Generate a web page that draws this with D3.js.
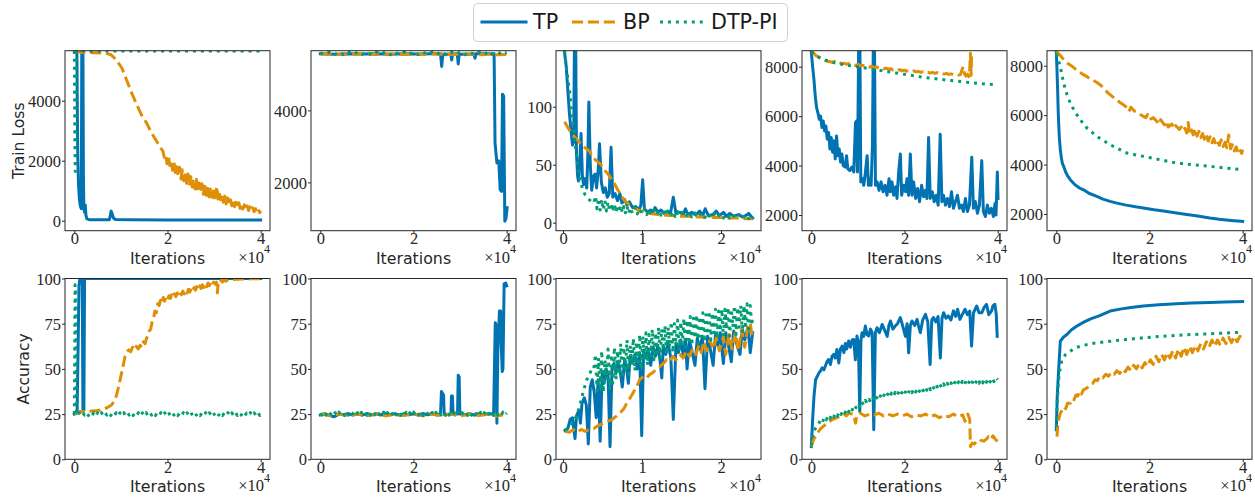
<!DOCTYPE html>
<html>
<head>
<meta charset="utf-8">
<script src="https://cdn.jsdelivr.net/npm/d3@7"></script>
<style>
  body { margin: 0; background: #fff; }
  svg { display: block; }
</style>
</head>
<body>
<svg id="fig" width="1255" height="497"></svg>
<script>
// Training curves: TP, BP and DTP-PI on five tasks.
// Each series is a list of [iterations in thousands, value].

// ---- Train loss, task 1 ----
const p1TP = [[0,5700],[0.55,5700],[0.65,3600],[0.75,2100],[0.9,1200],[1.1,700],[1.3,480],[1.5,400],[1.6,5700],[1.85,5700],[1.95,1600],[2.05,400],[2.2,280],[2.35,520],[2.5,180],[2.7,60],[3.2,35],[5,28],[7.5,28],[7.7,150],[7.9,320],[8.1,240],[8.4,90],[8.8,40],[12,30],[20,25],[30,22],[40,20]];
const p1BP = [[0,5640],[2,5610],[4,5600],[6,5590],[7,5570],[7.9,5530],[8.95,5370],[10.2,5090],[11.2,4700],[12.3,4260],[13.4,3870],[14.4,3530],[15.5,3260],[16.6,2920],[17.7,2640],[18.4,2450],
  [19.0,2330],[19.3,2120],[19.6,2210],[19.9,1900],[20.2,2150],[20.5,1840],[20.8,2010],[21.1,1680],[21.4,1950],[21.7,1560],[22.0,1800],[22.3,1480],[22.6,1780],[22.9,1390],[23.2,1700],[23.5,1330],[23.8,1610],[24.1,1250],[24.4,1560],[24.7,1160],[25.0,1470],[25.3,1120],[25.6,1400],[25.9,1060],[26.2,1380],[26.5,980],[26.8,1260],[27.1,950],[27.4,1230],[27.7,880],[28.0,1150],[28.3,850],[28.6,1080],[28.9,800],[29.2,1060],[29.5,780],[29.8,990],[30.1,760],[30.4,980],[30.6,1140],[30.8,720],[31.1,930],[31.4,700],[31.7,860],[32.0,620],[32.3,820],[32.6,560],[32.9,760],[33.2,540],[33.5,700],[33.8,500],[34.1,670],[34.4,470],[34.7,610],[35.0,450],[35.3,600],[35.6,410],[35.9,560],[36.2,390],[36.5,530],[36.8,370],[37.1,490],[37.4,340],[37.7,460],[38.0,330],[38.3,430],[38.6,300],[38.9,400],[39.2,280],[39.5,380],[39.8,270],[40.0,330]];
const p1DTP = [[0,5660],[0.1,3000],[0.2,1640],[0.3,3500],[0.45,5660],[40,5660]];

// ---- Train loss, task 2 ----
const p2TP = [[0,5570],[3,5560],[6,5575],[9,5565],[12,5570],[15,5560],[18,5570],[21,5565],[24,5570],[25.8,5570],[26.05,5220],[26.3,5560],[28.0,5565],[28.2,5400],[28.4,5565],[29.4,5570],[29.6,5290],[29.8,5560],[33.0,5565],[33.2,5450],[33.4,5570],[37.3,5570],[37.5,3100],[37.9,2540],[38.3,2600],[38.6,1800],[38.9,1750],[39.1,4450],[39.35,4400],[39.6,920],[39.85,1000],[40.1,1300]];
const p2BP = [[0,5565],[4,5555],[8,5570],[12,5555],[16,5565],[20,5550],[24,5565],[28,5555],[32,5560],[34,5545],[36,5560],[38,5545],[40,5555]];
const p2DTP = [[0,5600],[1,5550],[2,5625],[3,5545],[4,5620],[5,5550],[6,5630],[7,5545],[8,5620],[9,5555],[10,5625],[11,5545],[12,5620],[13,5550],[14,5630],[15,5545],[16,5625],[17,5550],[18,5620],[19,5545],[20,5630],[21,5550],[22,5625],[23,5545],[24,5620],[25,5550],[26,5630],[27,5545],[28,5625],[29,5550],[30,5620],[31,5545],[32,5630],[33,5550],[34,5625],[35,5545],[36,5620],[37,5550],[38,5630],[39,5545],[40,5610]];

// ---- Train loss, task 3 ----
const p3TP = [[0.17,148],[0.4,135],[0.6,115],[0.8,95],[1.0,80],[1.2,67],[1.35,70],[1.45,160],[1.6,160],[1.7,60],[1.85,40],[1.95,36],[2.1,50],[2.28,77],[2.45,40],[2.6,33],[2.8,38],[3.0,30],[3.15,60],[3.27,104],[3.45,50],[3.63,28],[3.85,40],[4.05,42],[4.25,30],[4.45,45],[4.62,68],[4.85,35],[5.1,26],[5.35,30],[5.6,22],[5.85,25],[6.08,65],[6.3,22],[6.6,25],[6.9,19],[7.2,25],[7.45,17],[7.8,20],[8.1,15],[8.4,18],[8.8,13],[9.2,14],[9.6,11],[9.85,15],[10.08,37],[10.3,12],[10.7,9],[11.1,11],[11.4,9],[11.65,13],[12.0,9],[12.4,11],[12.8,8],[13.2,10],[13.6,8],[13.96,22],[14.3,8],[14.8,9],[15.2,7],[15.5,12],[15.8,7],[16.3,9],[16.8,6.5],[17.3,10],[17.7,6.5],[18.0,12],[18.4,6],[19.0,7],[19.4,10],[19.8,6],[20.3,9],[20.7,5.5],[21.1,8],[21.6,5.5],[22.2,7],[22.7,5],[23.1,6],[23.5,8],[24.0,4]];
const p3BP = [[0.2,87],[0.7,81],[1.43,74],[2.0,70],[2.5,66],[3.3,62],[3.8,56],[4.3,53],[4.8,50],[5.3,45],[5.8,41],[6.3,36],[6.8,30],[7.3,24],[7.8,19],[8.3,16],[8.9,13],[9.5,11],[10.2,9],[11,8],[12,7],[13,6.5],[14,6],[15,5.5],[16,5.5],[17,5],[18,5],[19,4.5],[20,4.5],[21,4],[22,4],[23,3.5],[24,3.5]];
const p3DTP = [[0.2,148],[0.5,130],[0.9,110],[1.1,95],[1.35,82],[1.55,66],[1.8,53],[2.05,40],[2.3,33],[2.55,28],[2.8,24],[3.05,22],[3.3,20],[3.6,18],[3.9,17],
  [4.1,23],[4.3,12],[4.5,21],[4.7,11],[4.9,20],[5.1,11],[5.3,19],[5.5,10],[5.7,18],[5.9,10],[6.1,17],[6.3,9.5],[6.5,16],[6.7,9],[6.9,15],[7.1,9],[7.3,15],[7.5,8.5],[7.7,14],[7.9,8.5],[8.1,14],[8.3,8],[8.5,13],[8.8,8],[9.1,13],[9.4,7.5],[9.7,12],[10.0,7.5],[10.3,12],[10.6,7],[10.9,11.5],[11.2,7],[11.5,11],[11.8,6.5],[12.1,11],[12.4,6.5],[12.7,10.5],[13.0,6],[13.3,10],[13.6,6],[13.9,10],[14.2,5.5],[14.5,9.5],[14.8,5.5],[15.1,9],[15.5,5],[15.9,9],[16.3,5],[16.7,8.5],[17.1,4.5],[17.5,8.5],[17.9,4.5],[18.3,8],[18.7,4.5],[19.1,8],[19.5,4],[19.9,7.5],[20.3,4],[20.7,7.5],[21.1,4],[21.5,7],[21.9,3.5],[22.3,7],[22.7,3.5],[23.1,7],[23.5,3.5],[23.9,6.5],[24.0,4]];

// ---- Train loss, task 4 ----
const p4TP = [[0,8600],[0.28,8000],[0.57,7470],[0.85,6800],[1.14,6330],[1.42,6130],[1.71,5870],[1.99,6000],[2.28,5540],[2.56,5800],[2.85,5400],[3.13,5600],[3.42,5070],[3.71,5340],[3.99,4670],[4.28,5140],[4.56,4540],[4.85,5000],[5.13,4270],[5.42,5200],[5.7,4400],[5.99,4670],[6.27,4140],[6.56,4470],[6.84,4000],[7.27,3940],[7.56,4400],[7.84,3870],[8.27,3800],[8.7,3940],[9.12,3740],[9.48,5740],[9.69,5800],[9.91,3740],[10.19,9500],[10.41,9500],[10.62,3340],[10.98,3470],[11.26,3200],[11.62,3740],[11.98,4400],[12.26,3200],[12.55,3470],[12.83,3200],[13.12,4800],[13.33,9500],[13.54,9500],[13.76,3200],[14.12,3340],[14.54,3000],[14.97,3340],[15.4,2940],[15.83,3200],[16.25,2800],[16.68,3470],[16.97,2940],[17.32,3340],[17.68,2800],[18.11,3140],[18.39,2670],[18.75,3740],[19.11,4470],[19.39,2800],[19.82,3200],[20.25,2940],[20.53,3470],[20.89,2800],[21.25,4470],[21.6,2800],[21.96,3340],[22.39,2670],[22.81,3070],[23.24,2540],[23.67,3200],[24.1,2740],[24.52,3000],[24.81,2670],[25.17,5140],[25.52,2670],[25.95,2940],[26.38,2540],[26.81,2800],[27.23,2400],[27.66,5270],[28.02,2540],[28.37,2800],[28.8,2400],[29.23,2670],[29.66,2340],[30.09,2940],[30.51,2270],[30.94,2540],[31.37,2800],[31.8,2270],[32.23,2400],[32.65,2140],[33.08,2670],[33.51,2140],[33.94,2400],[34.44,4340],[34.79,2270],[35.22,2540],[35.65,2070],[36.08,2400],[36.58,4200],[36.93,2140],[37.36,1940],[37.79,2400],[38.21,2070],[38.64,2270],[39.07,1940],[39.43,2470],[39.64,2000],[39.93,3740],[40.07,2670]];
const p4BP = [[0,8600],[0.5,8550],[1,8450],[1.5,8400],[2,8330],[2.5,8300],[3,8250],[3.5,8220],[4,8200],[4.5,8180],[5,8210],[5.5,8150],[6,8170],[6.5,8120],[7,8140],[7.5,8100],[8,8120],[8.5,8080],[9,8110],[9.5,8050],[10,8100],[10.5,8040],[11,8060],[11.5,8010],[12,8030],[12.5,7980],[13,8020],[13.5,7960],[14,7990],[14.5,7940],[15,7960],[15.5,7910],[16,7940],[16.5,7900],[17,7920],[17.5,7870],[18,7900],[18.5,7850],[19,7880],[19.5,7830],[20,7860],[20.5,7820],[21,7840],[21.5,7800],[22,7830],[22.5,7790],[23,7810],[23.5,7770],[24,7800],[24.5,7760],[25,7780],[25.5,7740],[26,7770],[26.5,7730],[27,7760],[27.5,7720],[28,7740],[28.5,7700],[29,7730],[29.5,7690],[30,7710],[30.5,7670],[31,7700],[31.5,7660],[32,7680],[32.3,7850],[32.6,8000],[32.9,7700],[33.2,7620],[33.5,7700],[33.8,7600],[34.0,7900],[34.15,8540],[34.3,7650],[34.4,8560]];
const p4DTP = [[0,8600],[1,8450],[2,8340],[3,8270],[4,8200],[6,8110],[8,8050],[10,8000],[12,7930],[14,7870],[16,7810],[18,7750],[20,7690],[22,7630],[24,7570],[26,7530],[28,7480],[30,7440],[32,7400],[34,7360],[36,7320],[38,7290],[40,7260]];

// ---- Train loss, task 5 ----
const p5TP = [[0,8580],[0.15,7800],[0.28,7030],[0.4,6200],[0.5,5680],[0.65,5100],[0.86,4600],[1.1,4250],[1.3,4050],[1.57,3930],[2.0,3700],[2.5,3520],[2.99,3390],[4.0,3180],[5.0,3050],[5.84,2980],[7,2840],[8.7,2710],[10,2600],[11.55,2510],[13,2440],[15,2360],[17,2290],[18.67,2240],[21,2170],[23,2120],[25.8,2040],[28,1980],[30,1930],[32.94,1840],[35,1790],[37.5,1740],[40,1700]];
const p5BP = [[0,8580],[0.5,8480],[1,8380],[1.6,8240],[2.4,8100],[3.2,8000],[4,7880],[4.8,7780],[5.6,7660],[6.4,7580],[7.2,7470],[8,7400],[8.8,7310],[9.6,7200],[10.4,7030],[11.2,6880],[12,6760],[12.8,6640],[13.6,6520],[14.4,6420],[15.2,6300],[15.6,6150],[16.0,6320],[16.8,6160],[17.6,6080],[18.4,5980],[19.2,5900],[19.6,6020],[20,5820],[20.8,5900],[21.6,5740],[22.0,5620],[22.4,5820],[23.2,5600],[23.6,5760],[24,5520],[24.8,5640],[25.2,5450],[25.6,5580],[26.4,5420],[26.8,5520],[27.2,5360],[27.6,5470],[28.0,5280],[28.3,5700],[28.6,5250],[29.0,5400],[29.4,5200],[29.8,5450],[30.2,5150],[30.6,5350],[31.0,5090],[31.4,5250],[31.8,5020],[32.2,5200],[32.6,4950],[33.0,5120],[33.4,4880],[33.8,5050],[34.2,4820],[34.6,4950],[35.0,4780],[35.4,5000],[35.8,4730],[36.2,4900],[36.6,4680],[37.0,5200],[37.4,4640],[37.8,4800],[38.2,4550],[38.6,4720],[39.0,4480],[39.4,4620],[39.8,4450],[40,4600]];
const p5DTP = [[0,8480],[0.4,8250],[0.86,7970],[1.2,7620],[1.57,7300],[2.2,6880],[2.99,6490],[4.0,6130],[5.13,5816],[6.56,5480],[8.7,5140],[11.55,4804],[15.1,4468],[18.67,4331],[22.2,4197],[25.8,4064],[29.4,3990],[32.94,3926],[36.5,3860],[40,3793]];

// ---- Accuracy, task 1 ----
const p6TP = [[0,25],[0.6,25.5],[0.8,60],[1.0,96],[1.2,100],[1.7,100],[1.85,27],[2.05,27],[2.2,100],[40,100]];
const p6BP = [[0,25],[0.5,26],[1,26.5],[3,26.5],[5,27],[6,27.5],[7,28.5],[8,30],[8.5,32],[9,35],[9.5,40],[10,46],[10.5,52],[10.9,57],[11.3,59.5],[11.7,60.5],[12.1,59.5],[12.5,62],[12.9,60.5],[13.3,62.5],[13.7,61],[14.1,63],[14.5,62],[14.8,65],[15.2,64],[15.5,67],[15.8,68],[16.1,71],[16.4,72],[16.7,76],[17.0,78],[17.3,82],[17.6,81],[17.9,86],[18.2,85],[18.5,88],[18.8,86],[19.1,89.5],[19.4,87.5],[19.7,90],[20.0,88.5],[20.3,90.5],[20.6,89],[20.9,91],[21.2,89.5],[21.5,91.5],[21.8,90],[22.1,92],[22.4,90.5],[22.7,92.5],[23.0,91],[23.3,93],[23.6,91.5],[23.9,93.5],[24.2,92],[24.5,94],[24.8,92.5],[25.1,94.5],[25.4,93],[25.7,95],[26.0,93.5],[26.3,95.5],[26.6,94],[26.9,96],[27.2,94.5],[27.5,96.5],[27.8,95],[28.1,97],[28.4,95.5],[28.7,97.5],[29.0,96],[29.3,98],[29.6,96.5],[29.9,98],[30.2,97],[30.5,98],[30.7,92],[30.9,98],[31.2,97.5],[31.5,99],[31.8,98],[32.1,99],[32.5,98.5],[33,99.3],[34,99.5],[35,99.6],[36,99.7],[38,99.8],[40,99.9]];
const p6DTP = [[0,25],[0.08,60],[0.16,96.5],[0.26,96],[0.36,60],[0.46,25.3],
  [0.6,24.3],[1.0,25.8],[1.4,24.2],[1.8,25.7],[2.2,24.4],[2.6,25.8],[3.0,24.2],[3.4,25.6],[3.8,24.3],[4.2,25.8],[4.6,24.1],[5.0,25.7],[5.4,24.3],[5.8,25.9],[6.2,24.2],[6.6,25.7],[7.0,24.4],[7.4,25.8],[7.8,24.2],[8.2,25.6],[8.6,24.3],[9.0,25.8],[9.4,24.1],[9.8,25.7],[10.2,24.3],[10.6,25.9],[11.0,24.2],[11.4,25.7],[11.8,24.4],[12.2,25.8],[12.6,24.2],[13.0,25.6],[13.4,24.3],[13.8,25.8],[14.2,24.1],[14.6,25.7],[15.0,24.3],[15.4,25.9],[15.8,24.2],[16.2,25.7],[16.6,24.4],[17.0,25.8],[17.4,24.2],[17.8,25.6],[18.2,24.3],[18.6,25.8],[19.0,24.1],[19.4,25.7],[19.8,24.3],[20.2,25.9],[20.6,24.2],[21.0,25.7],[21.4,24.4],[21.8,25.8],[22.2,24.2],[22.6,25.6],[23.0,24.3],[23.4,25.8],[23.8,24.1],[24.2,25.7],[24.6,24.3],[25.0,25.9],[25.4,24.2],[25.8,25.7],[26.2,24.4],[26.6,25.8],[27.0,24.2],[27.4,25.6],[27.8,24.3],[28.2,25.8],[28.6,24.1],[29.0,25.7],[29.4,24.3],[29.8,25.9],[30.2,24.2],[30.6,25.7],[31.0,24.4],[31.4,25.8],[31.8,24.2],[32.2,25.6],[32.6,24.3],[33.0,25.8],[33.4,24.1],[33.8,25.7],[34.2,24.3],[34.6,25.9],[35.0,24.2],[35.4,25.7],[35.8,24.4],[36.2,25.8],[36.6,24.2],[37.0,25.6],[37.4,24.3],[37.8,25.8],[38.2,24.1],[38.6,25.7],[39.0,24.3],[39.4,25.9],[39.8,24.2],[40.0,25.2]];

// ---- Accuracy, task 2 ----
const p7TP = [[0,24.5],[1,25.2],[2,24.2],[3,23.5],[4,25],[5,24.6],[6,25.3],[7,24.5],[8,25.2],[9,24.4],[10,25.3],[11,24.6],[12,25.2],[13,24.5],[14,25.3],[15,24.6],[16,25.2],[17,24.5],[18,25.3],[19,24.6],[20,25.2],[21,24.5],[22,25.3],[23,24.6],[24,25.2],[25,24.5],[25.8,25.2],[26.0,37.5],[26.25,36.5],[26.45,35.5],[26.6,25],[27.5,24.8],[28.05,25],[28.15,35],[28.35,35],[28.5,25],[29.45,25],[29.6,46.5],[29.8,45.5],[29.95,25],[31,24.6],[32,25.2],[33,24.5],[34,25.2],[35,24.6],[36,25.2],[37.2,25],[37.55,75.5],[37.75,74],[37.9,20],[38.1,60],[38.45,82],[38.7,82],[38.85,62],[39.05,48.5],[39.2,50],[39.45,97],[39.8,97.5],[40,96]];
const p7BP = [[0,25],[2,24.2],[4,25.1],[6,24],[8,25],[10,24.1],[12,25.1],[14,24],[16,25],[18,24.2],[20,25.1],[22,24],[24,25],[26,24.1],[28,25],[30,24],[32,25.1],[34,24.2],[36,25],[38,24],[40,25]];
const p7DTP = [[0,25.2],[0.4,24.4],[0.8,26.0],[1.2,24.5],[1.6,25.9],[2.0,24.3],[2.4,26.0],[2.8,24.5],[3.2,25.8],[3.6,24.4],[4.0,26.1],[4.4,24.5],[4.8,25.9],[5.2,24.3],[5.6,26.0],[6.0,24.4],[6.4,25.8],[6.8,24.5],[7.2,26.1],[7.6,24.3],[8.0,25.9],[8.4,24.4],[8.8,26.0],[9.2,24.5],[9.6,25.8],[10.0,24.3],[10.4,26.1],[10.8,24.4],[11.2,25.9],[11.6,24.5],[12.0,26.0],[12.4,24.3],[12.8,25.8],[13.2,24.4],[13.6,26.1],[14.0,24.5],[14.4,25.9],[14.8,24.3],[15.2,26.0],[15.6,24.4],[16.0,25.8],[16.4,24.5],[16.8,26.1],[17.2,24.3],[17.6,25.9],[18.0,24.4],[18.4,26.0],[18.8,24.5],[19.2,25.8],[19.6,24.3],[20.0,26.1],[20.4,24.4],[20.8,25.9],[21.2,24.5],[21.6,26.0],[22.0,24.3],[22.4,25.8],[22.8,24.4],[23.2,26.1],[23.6,24.5],[24.0,25.9],[24.4,24.3],[24.8,26.0],[25.2,24.4],[25.6,25.8],[26.0,24.5],[26.4,26.1],[26.8,24.3],[27.2,25.9],[27.6,24.4],[28.0,26.0],[28.4,24.5],[28.8,25.8],[29.2,24.3],[29.6,26.1],[30.0,24.4],[30.4,25.9],[30.8,24.5],[31.2,26.0],[31.6,24.3],[32.0,25.8],[32.4,24.4],[32.8,26.1],[33.2,24.5],[33.6,25.9],[34.0,24.3],[34.4,26.0],[34.8,24.4],[35.2,25.8],[35.6,24.5],[36.0,26.1],[36.4,24.3],[36.8,25.9],[37.2,24.4],[37.6,26.0],[38.0,24.5],[38.4,25.8],[38.8,24.3],[39.2,26.1],[39.6,24.4],[40.0,25.6]];

// ---- Accuracy, task 3 ----
const p8TP = [[0.25,16],[0.6,17],[0.9,22],[1.2,23],[1.35,17],[1.52,11.5],[1.7,24],[2.0,27],[2.2,20],[2.4,31],[2.7,34],[2.95,30],[3.2,8.5],[3.45,40],[3.7,44],[3.95,37],[4.2,23],[4.45,44],[4.7,10],[4.95,47],[5.2,42],[5.45,50],[5.7,46],[5.95,7],[6.2,50],[6.45,53],[6.7,48],[6.95,54],[7.2,50],[7.5,40],[7.8,55],[8.0,52],[8.27,42],[8.5,57],[8.8,54],[9.1,58],[9.4,50],[9.7,59],[9.96,13],[10.2,60],[10.5,56],[10.8,61],[11.1,52],[11.4,62],[11.7,57],[12.0,63],[12.3,54],[12.5,45],[12.7,63],[13.0,58],[13.3,64],[13.65,56],[13.96,22],[14.3,64],[14.6,59],[14.9,66],[15.2,58],[15.5,66],[15.7,50],[16.0,66],[16.3,60],[16.7,52],[17.0,67],[17.3,61],[17.65,68],[17.97,39],[18.3,68],[18.6,62],[19.0,52],[19.3,69],[19.6,63],[19.9,70],[20.3,53],[20.6,70],[20.9,64],[21.3,54],[21.6,71],[21.9,65],[22.4,58],[22.7,72],[23.0,66],[23.4,73],[23.7,59],[24.0,70]];
const p8BP = [[0.25,15.5],[0.8,15],[1.3,16.5],[1.8,15],[2.3,16.5],[2.8,15.5],[3.4,16.5],[3.9,17],[4.4,18.5],[5.1,20],[5.6,21],[6.2,22],[6.8,24],[7.3,26],[7.7,28],[8.06,31],[8.5,34],[8.9,37],[9.3,40],[9.7,44],[10.2,46],[10.6,45],[11.0,47],[11.4,48],[11.8,50],[12.2,51],[12.7,53],[13.1,55],[13.5,54],[13.9,57],[14.3,55],[14.8,58],[15.2,56],[15.6,60],[16.0,57],[16.4,61],[16.8,58],[17.2,63],[17.5,59],[17.8,65],[18.2,60],[18.6,66],[19.0,61],[19.4,67],[19.8,60],[20.3,68],[20.6,58],[21.0,69],[21.4,61],[21.8,70],[22.2,60],[22.6,72],[23.0,62],[23.4,73],[23.7,75.5],[24.0,66]];
const p8DTP = [[0.25,16],[0.6,17],[1.0,19],[1.4,21],[1.7,24],[2.0,28],[2.3,33],[2.6,38],[3.0,44],[3.3,46],[3.6,50],[3.9,50],
  [4.1,58],[4.3,38],[4.5,56],[4.7,40],[4.9,60],[5.1,37],[5.3,55],[5.5,44],[5.7,61],[5.9,39],[6.1,58],[6.3,42],[6.5,62],[6.7,44],[6.9,60],[7.1,47],[7.3,64],[7.5,45],[7.7,62],[7.9,50],[8.1,66],[8.3,47],[8.5,63],[8.7,52],[8.9,67],[9.1,49],[9.3,65],[9.5,54],[9.7,69],[9.9,50],[10.1,68],[10.3,55],[10.5,70],[10.7,52],[10.9,69],[11.1,57],[11.3,72],[11.5,55],[11.7,70],[11.9,59],[12.1,73],[12.3,56],[12.5,72],[12.7,60],[12.9,74],[13.1,58],[13.3,73],[13.5,62],[13.7,76],[13.9,59],[14.1,75],[14.3,63],[14.5,77],[14.7,60],[14.9,76],[15.1,64],[15.3,78],[15.5,62],[15.7,77],[15.9,66],[16.1,79],[16.3,63],[16.5,78],[16.7,67],[16.9,80],[17.1,64],[17.3,79],[17.5,68],[17.7,81],[17.9,65],[18.1,80],[18.3,69],[18.5,82],[18.7,66],[18.9,81],[19.1,70],[19.3,83],[19.5,67],[19.7,82],[19.9,71],[20.1,83],[20.3,68],[20.5,83],[20.7,72],[20.9,84],[21.1,68],[21.3,83],[21.5,73],[21.7,85],[21.9,69],[22.1,84],[22.3,73],[22.5,85],[22.7,70],[22.9,85],[23.1,74],[23.3,86],[23.5,70],[23.7,85],[23.9,74],[24.0,80]];

// ---- Accuracy, task 4 ----
const p9TP = [[0,7],[0.28,22],[0.57,34.8],[0.92,44],[1.3,46],[1.63,47.8],[2.0,49],[2.33,50.6],[2.7,49.5],[3.0,51.5],[3.35,54],[3.7,55.2],[4.1,52.4],[4.45,57],[4.8,58],[5.15,56],[5.5,60.7],[5.9,53.3],[6.25,61],[6.6,62.6],[7.0,59],[7.3,64],[7.6,61],[8.0,65.4],[8.4,62],[8.75,66],[9.1,66.3],[9.45,55],[9.8,68.2],[10.1,64],[10.4,26.4],[10.65,66],[10.9,70],[11.25,68],[11.6,73.7],[11.95,69],[12.3,68.2],[12.7,72],[13.05,70],[13.4,16.3],[13.75,70],[14.1,72.8],[14.6,70],[15.2,74.6],[15.8,71],[16.3,68],[16.65,74],[17.0,76.5],[17.5,72],[18.0,73.7],[18.5,75],[19.1,78.4],[19.6,74],[20.2,68],[20.55,75],[20.9,58.9],[21.25,74],[21.6,76.5],[22.2,74],[22.7,77.4],[23.0,74],[23.4,70],[23.9,77],[24.5,80.2],[25.0,76],[25.5,52.4],[25.85,77],[26.2,78.4],[26.7,76],[27.2,79],[27.7,56],[28.05,78],[28.4,81.1],[28.9,78],[29.4,79.3],[29.95,77],[30.5,82.1],[31.0,79],[31.4,83],[31.9,77.4],[32.4,80],[33.0,83],[33.5,80],[34.0,82],[34.4,62.6],[34.8,81],[35.5,84.8],[36.0,81],[36.6,81.1],[37.1,84],[37.6,85.7],[38.1,80],[38.7,82.1],[39.0,85],[39.4,85.7],[39.7,80],[39.9,68]];
const p9BP = [[0,7],[0.5,11],[1.28,14.5],[2,17],[3.4,20],[4.5,22],[5.5,23],[6.3,24],[7,25],[7.5,24],[8,25.5],[9,25],[9.5,20],[9.8,24.5],[10.5,25.5],[11.5,24],[12.5,25],[13.5,24.5],[14.5,25.5],[15.5,24],[16.5,25],[17.5,24],[18.5,25],[19.5,24],[20.5,25],[21.5,23.5],[22.5,24.5],[23.5,24],[24.5,25],[25.5,23.5],[26.5,24.5],[27.5,23],[28.5,24.5],[29.5,23.5],[30.5,25],[31.5,23.5],[32.5,24.5],[33.0,21],[33.3,23],[33.6,25],[34.0,22],[34.15,7],[34.5,9],[35,8.5],[35.5,10],[36,9.5],[36.5,10.5],[37,10],[37.5,11],[38,12.5],[38.5,11],[39,13],[39.5,11],[40,10]];
const p9DTP = [[0,7.5],[0.3,13],[0.6,16],[1.28,18.5],[1.6,19.8],
  [2.0,22.0],[2.4,20.6],[2.8,23.3],[3.2,21.8],[3.6,24.0],[4.0,22.4],[4.4,25.0],[4.8,23.4],[5.2,25.6],[5.6,24.0],[6.0,26.4],[6.4,24.8],[6.8,27.0],[7.2,25.5],[7.6,27.9],[8.0,26.2],[8.4,28.8],[8.8,27.3],[9.2,30.0],[9.6,28.5],[10.0,31.0],[10.4,29.3],[10.8,31.9],[11.2,30.1],[11.6,32.6],[12.0,30.9],[12.4,33.1],[12.8,31.4],[13.2,33.8],[13.6,32.0],[14.0,34.3],[14.4,32.6],[14.8,35.1],[15.2,33.3],[15.6,35.6],[16.0,33.9],[16.4,36.1],[16.8,34.2],[17.2,36.6],[17.6,34.8],[18.0,37.0],[18.4,35.2],[18.8,37.6],[19.2,35.7],[19.6,37.9],[20.0,36.1],[20.4,38.4],[20.8,36.5],[21.2,38.8],[21.6,36.9],[22.0,39.1],[22.4,37.2],[22.8,39.5],[23.2,37.6],[23.6,39.8],[24.0,37.9],[24.4,40.1],[24.8,38.2],[25.2,40.5],[25.6,38.5],[26.0,40.7],[26.4,38.8],[26.8,41.1],[27.2,39.2],[27.6,41.4],[28.0,39.5],[28.4,41.7],[28.8,39.8],[29.2,42.0],[29.6,40.1],[30.0,42.3],[30.4,40.3],[30.8,42.6],[31.2,40.6],[31.6,42.8],[32.0,40.9],[32.4,43.1],[32.8,41.1],[33.2,43.3],[33.6,41.4],[34.0,43.6],[34.4,41.6],[34.8,43.8],[35.2,41.9],[35.6,44.0],[36.0,42.1],[36.4,44.3],[36.8,42.3],[37.2,44.5],[37.6,42.6],[38.0,44.8],[38.4,42.8],[38.8,45.0],[39.2,43.0],[39.6,45.2],[40.0,44.0]];

// ---- Accuracy, task 5 ----
const p10TP = [[0,16.3],[0.2,35],[0.5,49.6],[0.86,65.3],[1.5,67.5],[2.28,69],[3.2,71.5],[4.42,73.7],[6,76],[7.5,77.8],[9.05,79.2],[11.55,82],[14,83.2],[16,84],[18.67,84.8],[22,85.5],[25.8,86.1],[29,86.4],[32.94,86.7],[36,87],[40,87.2]];
const p10BP = [[0.14,12.6],[0.3,18],[0.5,22],[0.86,25.5],[1.2,27],[1.6,29],[2.0,28],[2.4,31],[2.99,31],[3.4,33.5],[3.8,33],[4.2,35.5],[4.6,35],[5.0,37.5],[5.4,36],[5.84,38.5],[6.3,39],[6.8,40],[7.3,41.5],[7.8,42],[8.3,44],[8.8,43.5],[9.41,45.9],[10,45],[10.6,47],[11.2,46],[11.8,48],[12.4,47],[13,49],[13.6,47.5],[14.2,50],[14.8,48.5],[15.4,51],[16,49],[16.6,52],[17.2,50],[17.8,53],[18.4,50.5],[19,53.5],[19.6,51.5],[20.2,55],[20.8,52.5],[21.4,57],[22,54],[22.6,58],[23.2,55],[23.8,59],[24.4,56],[25,60],[25.6,56],[26.2,61],[26.8,57],[27.4,62],[28,58],[28.6,62.5],[29.2,59],[29.8,63],[30.4,60],[31,64],[31.6,61],[32.2,65],[32.8,62],[33.4,66],[34,62.5],[34.6,66],[35.2,63],[35.8,67],[36.4,64],[37,67.5],[37.6,64.5],[38.2,68],[38.8,65],[39.4,68],[40,67]];
const p10DTP = [[0,17.9],[0.2,32],[0.5,44],[0.86,51],[1.21,55],[2.0,58],[2.99,59.8],[4.2,61.8],[5.84,63],[8,64.2],[11.55,65.3],[15,66.3],[18.67,67.2],[22,67.9],[25.8,68.5],[29,69],[32.94,69.4],[36,69.8],[40,70.3]];

// ---- Axis settings ----
const methodNames = ["TP", "BP", "DTP-PI"];
const lossTicks1 = [0, 2000, 4000];
const lossTicks2 = [2000, 4000];
const lossTicks3 = [0, 50, 100];
const lossTicks45 = [2000, 4000, 6000, 8000];
const accTicks = [0, 25, 50, 75, 100];
const iterTicksLong = [0, 20, 40];   // thousands of iterations
const iterTicksShort = [0, 10, 20];

// ---- Layout and style ----
const colLeft = [65, 311, 556, 802, 1047];
const axW = 205;
const rows = [{ top: 50.7, bottom: 230.7 }, { top: 278.5, bottom: 459.3 }];
const INK = "#262626";
const SERIF_CSS = "font-family: 'Liberation Serif', 'Times New Roman', Times, 'Nimbus Roman', 'DejaVu Serif', 'Noto Serif', serif;";
const SANS_CSS = "font-family: 'DejaVu Sans', 'Bitstream Vera Sans', sans-serif;";
const styles = [
  { color: "#0173b2", dash: null, cap: "square" },
  { color: "#de8f05", dash: "11.1,4.8", cap: "butt" },
  { color: "#029e73", dash: "3,4.95", cap: "butt" }
];

const panels = [
  { row: 0, col: 0, xd: [-2, 42], yd: [-333, 5667], yt: lossTicks1, xt: iterTicksLong, series: [p1TP, p1BP, p1DTP], ylabel: "Train Loss", ylabX: 24.4 },
  { row: 0, col: 1, xd: [-2, 42], yd: [658, 5658], yt: lossTicks2, xt: iterTicksLong, series: [p2TP, p2BP, p2DTP] },
  { row: 0, col: 2, xd: [-0.89, 25.06], yd: [-6.9, 148.3], yt: lossTicks3, xt: iterTicksShort, series: [p3TP, p3BP, p3DTP] },
  { row: 0, col: 3, xd: [-2, 42], yd: [1365, 8647], yt: lossTicks45, xt: iterTicksLong, series: [p4TP, p4BP, p4DTP] },
  { row: 0, col: 4, xd: [-2, 42], yd: [1325, 8606], yt: lossTicks45, xt: iterTicksLong, series: [p5TP, p5BP, p5DTP] },
  { row: 1, col: 0, xd: [-2, 42], yd: [0, 100], yt: accTicks, xt: iterTicksLong, series: [p6TP, p6BP, p6DTP], ylabel: "Accuracy", ylabX: 29 },
  { row: 1, col: 1, xd: [-2, 42], yd: [0, 100], yt: accTicks, xt: iterTicksLong, series: [p7TP, p7BP, p7DTP] },
  { row: 1, col: 2, xd: [-0.89, 25.06], yd: [0, 100], yt: accTicks, xt: iterTicksShort, series: [p8TP, p8BP, p8DTP] },
  { row: 1, col: 3, xd: [-2, 42], yd: [0, 100], yt: accTicks, xt: iterTicksLong, series: [p9TP, p9BP, p9DTP] },
  { row: 1, col: 4, xd: [-2, 42], yd: [0, 100], yt: accTicks, xt: iterTicksLong, series: [p10TP, p10BP, p10DTP] }
];

const svg = d3.select("#fig");
const defs = svg.append("defs");

panels.forEach((p, i) => {
  const left = colLeft[p.col];
  const r = rows[p.row];
  const x = d3.scaleLinear().domain(p.xd).range([left, left + axW]);
  const y = d3.scaleLinear().domain(p.yd).range([r.bottom, r.top]);
  const g = svg.append("g");

  const clipId = "clip-" + i;
  defs.append("clipPath").attr("id", clipId)
    .append("rect").attr("x", left).attr("y", r.top)
    .attr("width", axW).attr("height", r.bottom - r.top);

  const line = d3.line().x(d => x(d[0])).y(d => y(d[1]));
  const lines = g.append("g").attr("clip-path", `url(#${clipId})`);
  p.series.forEach((s, k) => {
    const st = styles[k];
    lines.append("path")
      .attr("d", line(s))
      .attr("fill", "none")
      .attr("stroke", st.color)
      .attr("stroke-width", 3)
      .attr("stroke-linejoin", "round")
      .attr("stroke-linecap", st.cap)
      .attr("stroke-dasharray", st.dash);
  });

  // frame
  g.append("rect")
    .attr("x", left).attr("y", r.top)
    .attr("width", axW).attr("height", r.bottom - r.top)
    .attr("fill", "none").attr("stroke", INK).attr("stroke-width", 1);

  // y axis
  const ya = g.append("g")
    .attr("transform", `translate(${left},0)`)
    .call(d3.axisLeft(y).tickValues(p.yt).tickSize(3).tickPadding(1).tickFormat(d3.format("d")));
  ya.select(".domain").remove();
  ya.attr("color", INK).attr("font-family", null).attr("font-size", null);
  ya.selectAll("text").attr("style", SERIF_CSS + " font-size: 16.5px;").attr("dy", "0.34em");

  // x axis
  const xa = g.append("g")
    .attr("transform", `translate(0,${r.bottom})`)
    .call(d3.axisBottom(x).tickValues(p.xt).tickSize(3).tickFormat(d => d3.format("d")(d / 10)));
  xa.select(".domain").remove();
  xa.attr("color", INK).attr("font-family", null).attr("font-size", null);
  xa.selectAll("text").attr("style", SERIF_CSS + " font-size: 16.5px;").attr("y", 13.5).attr("dy", null);

  // x label and exponent
  g.append("text")
    .attr("style", SANS_CSS + " font-size: 15.8px;")
    .attr("x", left + axW / 2).attr("y", r.bottom + 33)
    .attr("text-anchor", "middle").attr("fill", INK)
    .text("Iterations");
  const ex = g.append("text")
    .attr("style", SERIF_CSS + " font-size: 16.5px;")
    .attr("x", left + axW).attr("y", r.bottom + 32)
    .attr("text-anchor", "end").attr("fill", INK);
  ex.append("tspan").text("×10");
  ex.append("tspan").attr("style", "font-size: 12px;").attr("dy", -9.3).text("4");

  if (p.ylabel) {
    const cy = (r.top + r.bottom) / 2;
    g.append("text")
      .attr("style", SANS_CSS + " font-size: 15.6px;")
      .attr("transform", `translate(${p.ylabX},${cy}) rotate(-90)`)
      .attr("text-anchor", "middle").attr("fill", INK)
      .text(p.ylabel);
  }
});

// legend
const lg = svg.append("g");
lg.append("rect")
  .attr("x", 473.5).attr("y", 3.5).attr("width", 314).attr("height", 38).attr("rx", 4)
  .attr("fill", "#fff").attr("stroke", "#d0d0d0").attr("stroke-width", 1);
const legendX = [482, 572, 660];
methodNames.forEach((name, k) => {
  const st = styles[k];
  lg.append("line")
    .attr("x1", legendX[k]).attr("x2", legendX[k] + 44)
    .attr("y1", 22).attr("y2", 22)
    .attr("stroke", st.color).attr("stroke-width", 3)
    .attr("stroke-linecap", st.cap)
    .attr("stroke-dasharray", st.dash);
  lg.append("text")
    .attr("style", SANS_CSS + " font-size: 20.7px;")
    .attr("x", legendX[k] + 51).attr("y", 29.3)
    .attr("fill", "#1a1a1a")
    .text(name);
});
</script>
</body>
</html>
